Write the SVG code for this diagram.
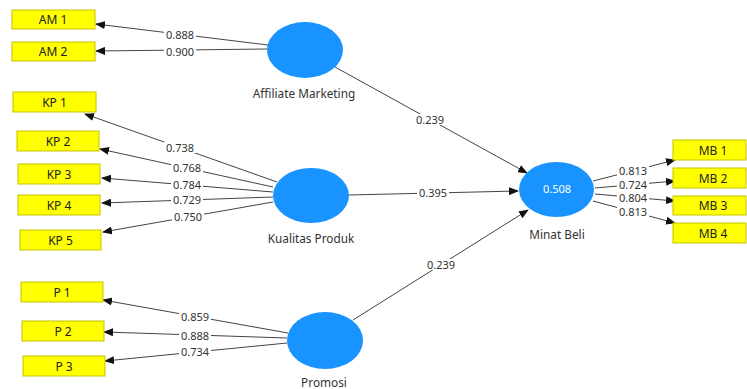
<svg xmlns="http://www.w3.org/2000/svg" width="747" height="389" viewBox="0 0 747 389">
  <style>
    .ind rect { fill: #ffff00; stroke: #c4c400; stroke-width: 1; }
    .ind text { font-family: "Noto Sans", "Liberation Sans", sans-serif; font-size: 12px; fill: #222; text-anchor: middle; dominant-baseline: central; }
    .lv ellipse { fill: #1993ff; }
    .lv text.name { font-family: "Noto Sans", "Liberation Sans", sans-serif; font-size: 11.8px; fill: #333; text-anchor: middle; dominant-baseline: central; }
    .lv text.r2 { font-family: "Noto Sans", "Liberation Sans", sans-serif; font-size: 11px; fill: #ffffff; text-anchor: middle; dominant-baseline: central; }
    .edges line { stroke: #444; stroke-width: 1; marker-end: url(#head); }
    .lbl rect { fill: #ffffff; }
    .lbl text { font-family: "Noto Sans", "Liberation Sans", sans-serif; font-size: 11px; fill: #333; text-anchor: middle; dominant-baseline: central; }
  </style>
  <defs>
    <marker id="head" markerUnits="userSpaceOnUse" markerWidth="10" markerHeight="8" refX="9" refY="4" orient="auto">
      <path d="M0,0 L10,4 L0,8 z" fill="#111"/>
    </marker>
  </defs>
  <rect width="747" height="389" fill="#ffffff"/>

  <!-- connectors -->
  <g id="edges" class="edges">
    <line x1="268" y1="45" x2="96" y2="24"/>
    <line x1="267" y1="49" x2="96" y2="51"/>
    <line x1="277" y1="182" x2="85" y2="114"/>
    <line x1="273" y1="187" x2="100" y2="149"/>
    <line x1="273" y1="192" x2="102" y2="178"/>
    <line x1="273" y1="197" x2="102" y2="203"/>
    <line x1="273" y1="202" x2="103" y2="232"/>
    <line x1="288" y1="333" x2="103" y2="300"/>
    <line x1="287" y1="338" x2="104" y2="332"/>
    <line x1="287" y1="343" x2="105" y2="361"/>
    <line x1="335" y1="67" x2="527" y2="173"/>
    <line x1="349" y1="195" x2="518" y2="191"/>
    <line x1="353" y1="320" x2="528" y2="210"/>
    <line x1="593" y1="181" x2="675" y2="160"/>
    <line x1="595" y1="188" x2="675" y2="181"/>
    <line x1="595" y1="194" x2="675" y2="201"/>
    <line x1="593" y1="201" x2="675" y2="223"/>
  </g>

  <!-- path coefficients and loadings -->
  <g id="edge-labels" class="lbl">
    <rect x="164" y="29" width="32" height="11"/><text x="180" y="34">0.888</text>
    <rect x="164" y="46" width="32" height="11"/><text x="180" y="51">0.900</text>
    <rect x="164" y="142" width="32" height="11"/><text x="180" y="147">0.738</text>
    <rect x="171" y="162" width="32" height="11"/><text x="187" y="167">0.768</text>
    <rect x="171" y="179" width="32" height="11"/><text x="187" y="184.5">0.784</text>
    <rect x="171" y="194" width="32" height="11"/><text x="187" y="199.5">0.729</text>
    <rect x="172" y="211" width="32" height="11"/><text x="188" y="216.5">0.750</text>
    <rect x="179" y="311" width="32" height="11"/><text x="195" y="316.5">0.859</text>
    <rect x="179" y="330" width="32" height="11"/><text x="195" y="335.5">0.888</text>
    <rect x="179" y="346" width="32" height="11"/><text x="195" y="351.5">0.734</text>
    <rect x="414" y="114" width="32" height="11"/><text x="430" y="119.5">0.239</text>
    <rect x="417" y="187" width="32" height="11"/><text x="433" y="192.5">0.395</text>
    <rect x="425" y="259" width="32" height="11"/><text x="441" y="264.5">0.239</text>
    <rect x="617" y="165" width="32" height="11"/><text x="633" y="170.5">0.813</text>
    <rect x="617" y="178.5" width="32" height="11"/><text x="633" y="184">0.724</text>
    <rect x="617" y="192.5" width="32" height="11"/><text x="633" y="197.5">0.804</text>
    <rect x="617" y="206" width="32" height="11"/><text x="633" y="211">0.813</text>
  </g>

  <!-- latent variables -->
  <g id="affiliate-marketing" class="lv">
    <ellipse cx="305" cy="50" rx="38" ry="28"/>
    <text class="name" x="304" y="93">Affiliate Marketing</text>
  </g>
  <g id="kualitas-produk" class="lv">
    <ellipse cx="311" cy="195.5" rx="38" ry="27.5"/>
    <text class="name" x="311" y="238">Kualitas Produk</text>
  </g>
  <g id="promosi" class="lv">
    <ellipse cx="325" cy="340.5" rx="38" ry="28.5"/>
    <text class="name" x="324" y="382">Promosi</text>
  </g>
  <g id="minat-beli" class="lv">
    <ellipse cx="556.5" cy="189.5" rx="37.5" ry="27.5"/>
    <text class="r2" x="557" y="188">0.508</text>
    <text class="name" x="557" y="234">Minat Beli</text>
  </g>

  <!-- indicators -->
  <g id="am1" class="ind"><rect x="12" y="10" width="83" height="19"/><text x="53" y="19.5">AM 1</text></g>
  <g id="am2" class="ind"><rect x="12" y="42" width="83" height="19"/><text x="53" y="51.5">AM 2</text></g>
  <g id="kp1" class="ind"><rect x="13" y="92" width="83" height="20"/><text x="54.5" y="102">KP 1</text></g>
  <g id="kp2" class="ind"><rect x="17" y="131" width="82" height="20"/><text x="58" y="141">KP 2</text></g>
  <g id="kp3" class="ind"><rect x="18" y="164" width="82" height="20"/><text x="59" y="174">KP 3</text></g>
  <g id="kp4" class="ind"><rect x="18" y="195" width="82" height="20"/><text x="59" y="205">KP 4</text></g>
  <g id="kp5" class="ind"><rect x="20" y="230" width="81" height="20"/><text x="60.5" y="240">KP 5</text></g>
  <g id="p1" class="ind"><rect x="21" y="282" width="82" height="20"/><text x="62" y="292">P 1</text></g>
  <g id="p2" class="ind"><rect x="22" y="321" width="82" height="20"/><text x="63" y="331">P 2</text></g>
  <g id="p3" class="ind"><rect x="23" y="356" width="82" height="20"/><text x="64" y="366">P 3</text></g>
  <g id="mb1" class="ind"><rect x="673" y="140" width="73" height="20"/><text x="713" y="150">MB 1</text></g>
  <g id="mb2" class="ind"><rect x="673" y="168" width="73" height="20"/><text x="713" y="178">MB 2</text></g>
  <g id="mb3" class="ind"><rect x="673" y="196" width="73" height="19"/><text x="713" y="205.5">MB 3</text></g>
  <g id="mb4" class="ind"><rect x="673" y="223" width="73" height="20"/><text x="713" y="233">MB 4</text></g>
</svg>
